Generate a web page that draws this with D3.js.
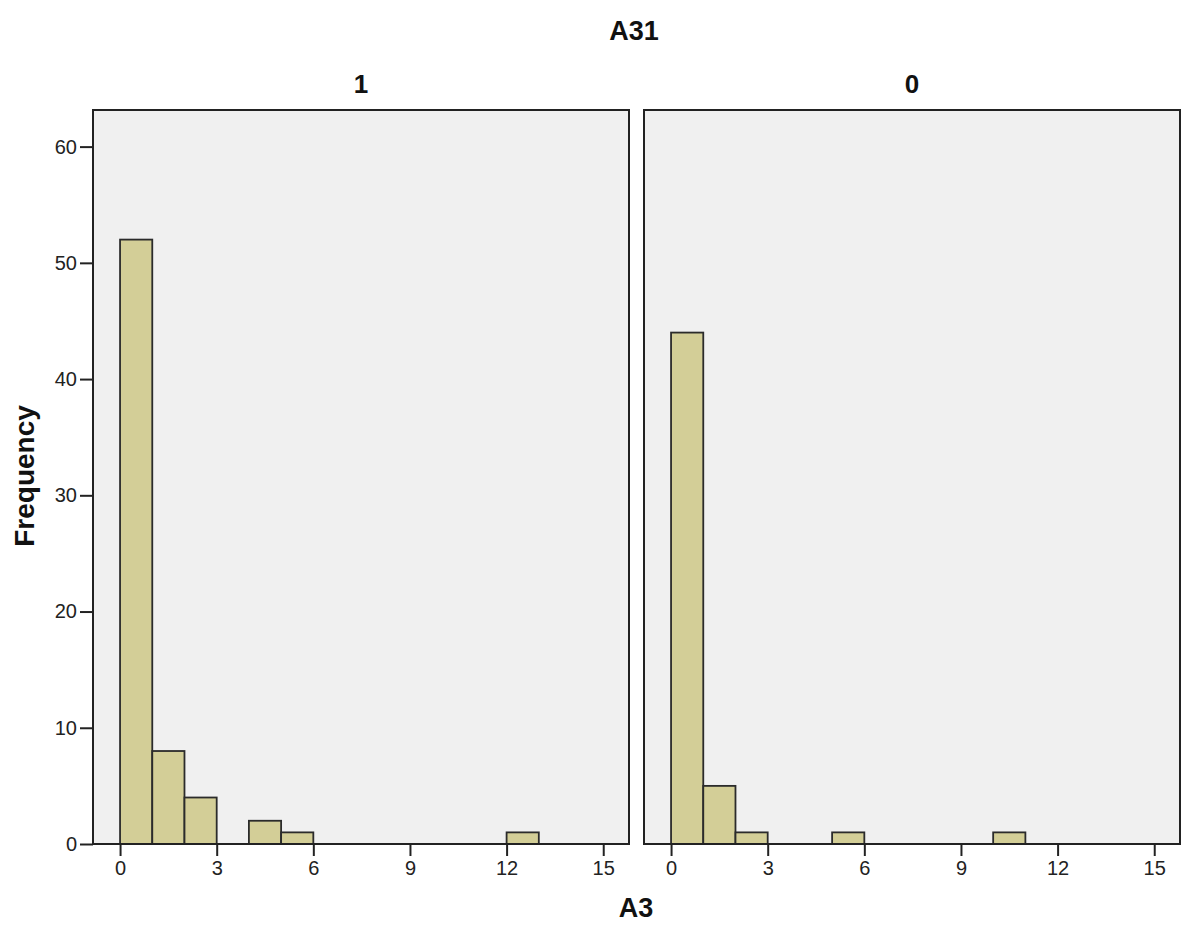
<!DOCTYPE html>
<html>
<head>
<meta charset="utf-8">
<script src="https://cdn.jsdelivr.net/npm/d3@7"></script>
<style>
  body { margin: 0; background: #fff; }
  svg { display: block; font-family: Arial, "Liberation Sans", sans-serif; }
</style>
</head>
<body>
<div id="chart"></div>
<script>
// Panels (values of A31) and bin counts of A3, bins of width 1 starting at 0
const groups = ["1", "0"];
const binStarts = [0, 1, 2, 3, 4, 5, 6, 7, 8, 9, 10, 11, 12, 13, 14];
const countsGroup1 = [52, 8, 4, 0, 2, 1, 0, 0, 0, 0, 0, 0, 1, 0, 0];
const countsGroup0 = [44, 5, 1, 0, 0, 1, 0, 0, 0, 0, 1, 0, 0, 0, 0];
const xTicks = [0, 3, 6, 9, 12, 15];
const yTicks = [0, 10, 20, 30, 40, 50, 60];

const width = 1183, height = 929;
const panelTop = 110, panelH = 734, panelW = 536;
const panelLefts = [93, 644];

const svg = d3.select("#chart").append("svg")
    .attr("width", width)
    .attr("height", height);

const x = d3.scaleLinear().domain([-0.84, 15.8]).range([0, panelW]);
const y = d3.scaleLinear().domain([0, 63.15]).range([panelH, 0]);

const allCounts = [countsGroup1, countsGroup0];

groups.forEach((g, i) => {
    const panel = svg.append("g")
        .attr("transform", `translate(${panelLefts[i]},${panelTop})`);

    panel.append("rect")
        .attr("width", panelW)
        .attr("height", panelH)
        .attr("fill", "#f0f0f0");

    const bars = binStarts.map((b, j) => ({x0: b, x1: b + 1, n: allCounts[i][j]}))
        .filter(d => d.n > 0);

    panel.selectAll(".bar")
        .data(bars)
        .enter().append("rect")
        .attr("class", "bar")
        .attr("x", d => x(d.x0))
        .attr("y", d => y(d.n))
        .attr("width", d => x(d.x1) - x(d.x0))
        .attr("height", d => y(0) - y(d.n))
        .attr("fill", "#d3ce97")
        .attr("stroke", "#2b2b2b")
        .attr("stroke-width", 1.8);

    // frame
    panel.append("rect")
        .attr("width", panelW)
        .attr("height", panelH)
        .attr("fill", "none")
        .attr("stroke", "#222")
        .attr("stroke-width", 2);

    const xAxis = panel.append("g")
        .attr("transform", `translate(0,${panelH})`)
        .call(d3.axisBottom(x).tickValues(xTicks).tickSize(12).tickSizeOuter(0).tickPadding(5));
    xAxis.select(".domain").remove();
    xAxis.selectAll("line").attr("stroke", "#222").attr("stroke-width", 2);
    xAxis.selectAll("text").attr("fill", "#222").style("font-size", "20px");

    if (i === 0) {
        const yAxis = panel.append("g")
            .call(d3.axisLeft(y).tickValues(yTicks).tickSize(13).tickSizeOuter(0).tickPadding(3));
        yAxis.select(".domain").remove();
        yAxis.selectAll("line").attr("stroke", "#222").attr("stroke-width", 2);
        yAxis.selectAll("text").attr("fill", "#222").style("font-size", "20px");
    }

    // panel label
    svg.append("text")
        .attr("x", panelLefts[i] + panelW / 2)
        .attr("y", 93)
        .attr("text-anchor", "middle")
        .style("font-size", "26px")
        .style("font-weight", "bold")
        .attr("fill", "#111")
        .text(g);
});

// overall titles
svg.append("text")
    .attr("x", 634)
    .attr("y", 40)
    .attr("text-anchor", "middle")
    .style("font-size", "27px")
    .style("font-weight", "bold")
    .attr("fill", "#111")
    .text("A31");

svg.append("text")
    .attr("x", 636)
    .attr("y", 917)
    .attr("text-anchor", "middle")
    .style("font-size", "27px")
    .style("font-weight", "bold")
    .attr("fill", "#111")
    .text("A3");

svg.append("text")
    .attr("transform", `translate(34,476) rotate(-90)`)
    .attr("text-anchor", "middle")
    .style("font-size", "28px")
    .style("font-weight", "bold")
    .attr("fill", "#111")
    .text("Frequency");
</script>
</body>
</html>
